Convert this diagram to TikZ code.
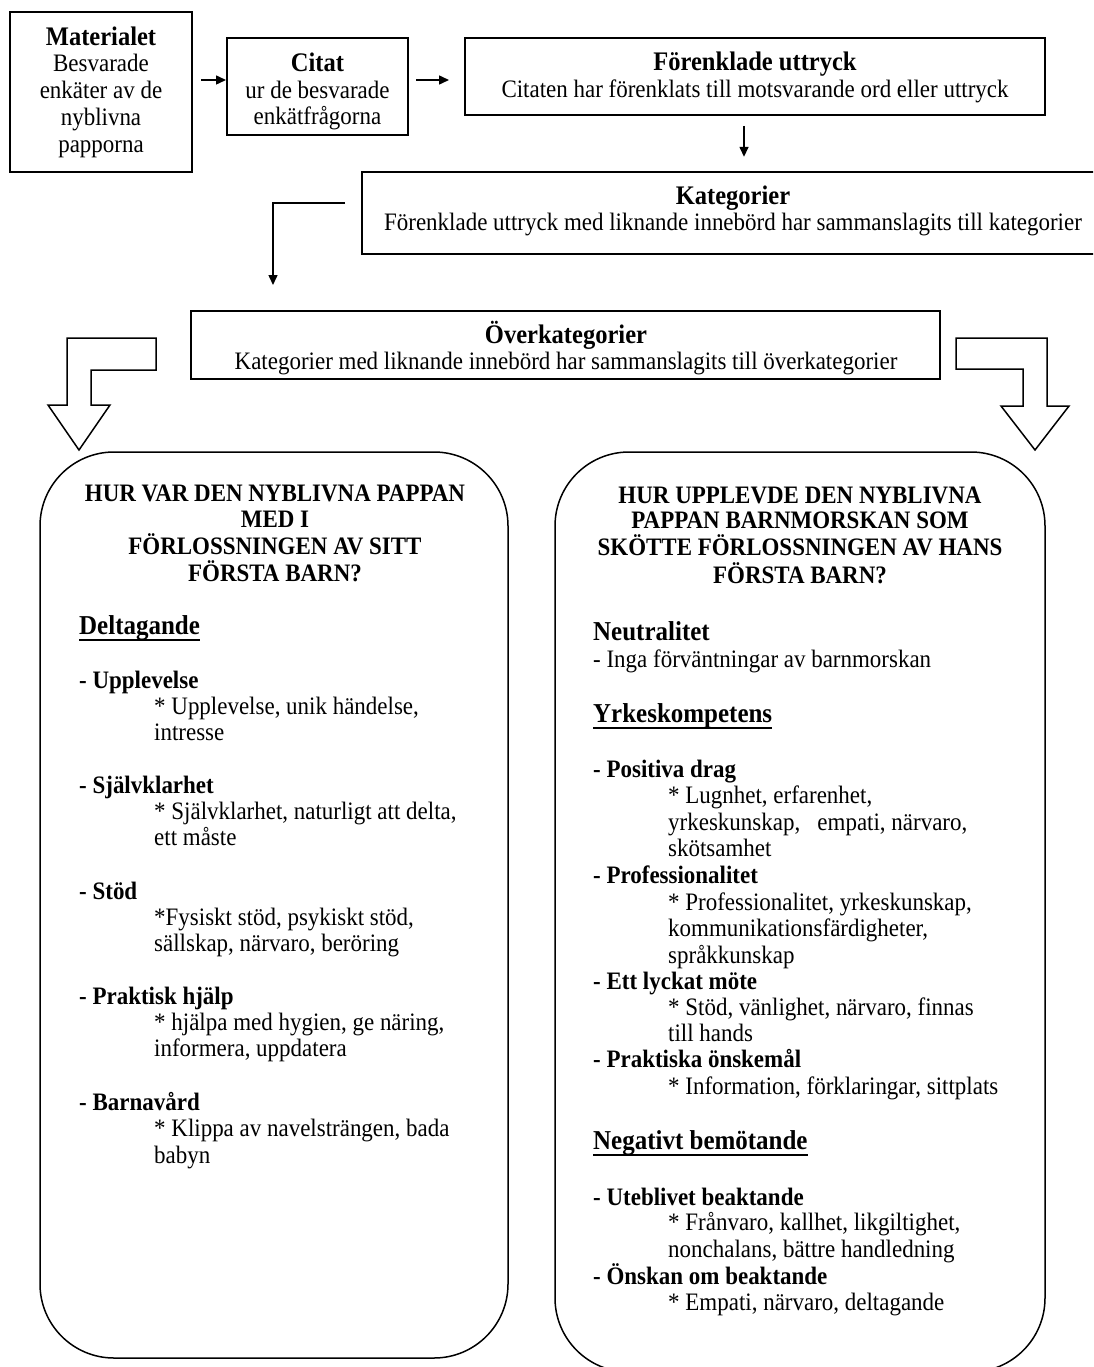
\documentclass[tikz,border=0pt]{standalone}
\usepackage{fontspec}
\setmainfont[FakeStretch=0.915]{Liberation Serif}
\usetikzlibrary{arrows.meta,calc}
\newcommand\bodyfont{\fontsize{25.1}{26.7}\selectfont}
\newcommand\ttlfont{\fontsize{26.8}{26.7}\selectfont\bfseries}
\newcommand\secfont{\fontsize{27.3}{26.7}\selectfont\bfseries}
\begin{document}
\begin{tikzpicture}[x=1pt,y=-1pt,
 box/.style={draw,line width=2pt,inner sep=0pt},
 boxtext/.style={inner sep=0pt,align=center,font=\bodyfont},
 arr/.style={line width=1.5pt,-{Triangle[length=10pt,width=9pt]}},
 hollow/.style={draw,line width=1.5pt,fill=white,line join=miter},
 rbox/.style={draw,line width=1.5pt,rounded corners=74pt},
 txt/.style={inner sep=0pt,anchor=base west,font=\bodyfont},
 btxt/.style={txt,font=\bodyfont\bfseries},
 stxt/.style={txt,font=\secfont},
 htxt/.style={inner sep=0pt,anchor=base,font=\bodyfont\bfseries},
 uline/.style={line width=2pt}]
\clip (0,0) rectangle (1093,1367);
\fill[white] (0,0) rectangle (1093,1367);

% top flow boxes
\node[box,line width=2.2pt,minimum width=182pt,minimum height=160pt] (mat) at (101,92) {};
\node[boxtext] (matT) at (101,92)
  {{\ttlfont Materialet}\\Besvarade\\enkäter av de\\nyblivna\\papporna};
\node[box,minimum width=181pt,minimum height=97pt] (cit) at (317.5,86.5) {};
\node[boxtext] (citT) at (317.5,91.5)
  {{\ttlfont Citat}\\ur de besvarade\\enkätfrågorna};
\node[box,minimum width=580pt,minimum height=77pt] (fu) at (755,76.5) {};
\node[boxtext] (fuT) at (755,77.5)
  {{\ttlfont Förenklade uttryck}\\Citaten har förenklats till motsvarande ord eller uttryck};
\node[inner sep=0pt,minimum width=760pt,minimum height=82pt] (kat) at (742,213) {};
\draw[line width=2.5pt] (1112,172) -| (362,254) -- (1112,254);
\node[boxtext] (katT) at (733,211)
  {{\ttlfont Kategorier}\\Förenklade uttryck med liknande innebörd har sammanslagits till kategorier};
\node[box,minimum width=749pt,minimum height=68pt] (ok) at (565.5,345) {};
\node[boxtext] (okT) at (566,348)
  {{\ttlfont Överkategorier}\\Kategorier med liknande innebörd har sammanslagits till överkategorier};

% connectors
\draw[arr,shorten <=8pt] ([yshift=12pt]mat.east) -- ([yshift=12pt]mat.east -| cit.west);
\draw[arr,shorten <=7pt,shorten >=15pt] ([yshift=6.5pt]cit.east) -- ([yshift=6.5pt]cit.east -| fu.west);
\draw[arr,shorten <=10pt,shorten >=15pt] ([xshift=-11pt]fu.south) -- ([xshift=-11pt]fu.south |- kat.north);
\coordinate (e0) at (345,203);
\coordinate (e1) at (273,285);
\draw[arr] (e0) -| (e1);

% hollow arrows
\draw[hollow] (156,338) -- (67,338) -- (67,405) -- (48,405) -- (79,450) -- (110,405)
  -- (91,405) -- (91,370) -- (156,370) -- cycle;
\draw[hollow] (956,338) -- (1047,338) -- (1047,406) -- (1069,406) -- (1035,450)
  -- (1001,406) -- (1023,406) -- (1023,369) -- (956,369) -- cycle;

% rounded boxes
\draw[rbox] (40,452) rectangle (508,1358);
\draw[rbox] (555,452) rectangle (1045,1372);

% left box text
\node[htxt] (lh1) at (275,501) {HUR VAR DEN NYBLIVNA PAPPAN};
\node[htxt] (lh2) at (275,527) {MED I};
\node[htxt] (lh3) at (275,554) {FÖRLOSSNINGEN AV SITT};
\node[htxt] (lh4) at (275,581) {FÖRSTA BARN?};
\node[stxt] (del) at (79,634) {Deltagande};
\draw[uline] ([yshift=-6pt]del.base west) -- ([yshift=-6pt]del.base east);
\node[btxt] (l1) at (79,688) {- Upplevelse};
\node[txt] (l2) at (154,714) {* Upplevelse, unik händelse,};
\node[txt] (l3) at (154,740) {intresse};
\node[btxt] (l4) at (79,793) {- Självklarhet};
\node[txt] (l5) at (154,819) {* Självklarhet, naturligt att delta,};
\node[txt] (l6) at (154,845) {ett måste};
\node[btxt] (l7) at (79,899) {- Stöd};
\node[txt] (l8) at (154,925) {*Fysiskt stöd, psykiskt stöd,};
\node[txt] (l9) at (154,951) {sällskap, närvaro, beröring};
\node[btxt] (l10) at (79,1004) {- Praktisk hjälp};
\node[txt] (l11) at (154,1030) {* hjälpa med hygien, ge näring,};
\node[txt] (l12) at (154,1056) {informera, uppdatera};
\node[btxt] (l13) at (79,1110) {- Barnavård};
\node[txt] (l14) at (154,1136) {* Klippa av navelsträngen, bada};
\node[txt] (l15) at (154,1163) {babyn};

% right box text
\node[htxt] (rh1) at (800,503) {HUR UPPLEVDE DEN NYBLIVNA};
\node[htxt] (rh2) at (800,528) {PAPPAN BARNMORSKAN SOM};
\node[htxt] (rh3) at (800,555) {SKÖTTE FÖRLOSSNINGEN AV HANS};
\node[htxt] (rh4) at (800,583) {FÖRSTA BARN?};
\node[stxt] (neu) at (593,640) {Neutralitet};
\node[txt] (r1) at (593,667) {- Inga förväntningar av barnmorskan};
\node[stxt] (yrk) at (593,722) {Yrkeskompetens};
\draw[uline] ([yshift=-6pt]yrk.base west) -- ([yshift=-6pt]yrk.base east);
\node[btxt] (r2) at (593,777) {- Positiva drag};
\node[txt] (r3) at (668,803) {* Lugnhet, erfarenhet,};
\node[txt] (r4) at (668,830) {yrkeskunskap,\ \ \ empati, närvaro,};
\node[txt] (r5) at (668,856) {skötsamhet};
\node[btxt] (r6) at (593,883) {- Professionalitet};
\node[txt] (r7) at (668,910) {* Professionalitet, yrkeskunskap,};
\node[txt] (r8) at (668,936) {kommunikationsfärdigheter,};
\node[txt] (r9) at (668,963) {språkkunskap};
\node[btxt] (r10) at (593,989) {- Ett lyckat möte};
\node[txt] (r11) at (668,1015) {* Stöd, vänlighet, närvaro, finnas};
\node[txt] (r12) at (668,1041) {till hands};
\node[btxt] (r13) at (593,1067) {- Praktiska önskemål};
\node[txt] (r14) at (668,1094) {* Information, förklaringar, sittplats};
\node[stxt] (neg) at (593,1149) {Negativt bemötande};
\draw[uline] ([yshift=-6pt]neg.base west) -- ([yshift=-6pt]neg.base east);
\node[btxt] (r15) at (593,1205) {- Uteblivet beaktande};
\node[txt] (r16) at (668,1230) {* Frånvaro, kallhet, likgiltighet,};
\node[txt] (r17) at (668,1257) {nonchalans, bättre handledning};
\node[btxt] (r18) at (593,1284) {- Önskan om beaktande};
\node[txt] (r19) at (668,1310) {* Empati, närvaro, deltagande};
\end{tikzpicture}
\end{document}
